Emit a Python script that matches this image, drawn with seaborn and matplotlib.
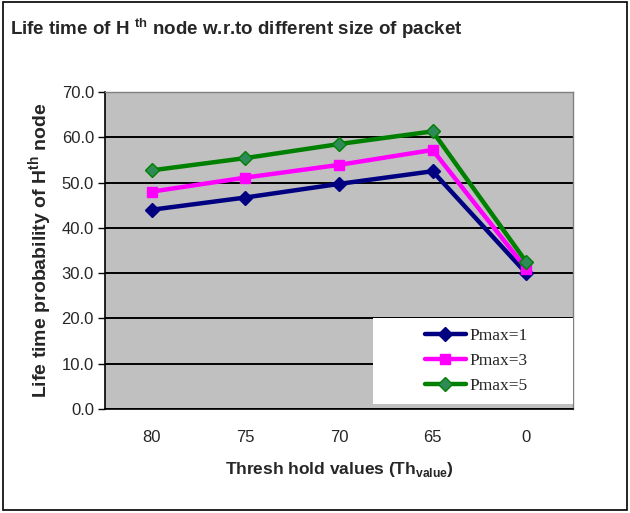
import matplotlib
matplotlib.use("Agg")
import matplotlib.pyplot as plt
import seaborn as sns
import pandas as pd
from matplotlib.patches import Rectangle
from matplotlib.lines import Line2D

categories = ["80", "75", "70", "65", "0"]
pmax1 = [44.0, 46.7, 49.7, 52.5, 30.0]
pmax3 = [48.0, 51.1, 53.9, 57.2, 31.0]
pmax5 = [52.7, 55.4, 58.5, 61.3, 32.5]
series_names = ["Pmax=1", "Pmax=3", "Pmax=5"]
y_ticks = [0, 10, 20, 30, 40, 50, 60, 70]

rows = []
for name, vals in zip(series_names, [pmax1, pmax3, pmax5]):
    for c, v in zip(categories, vals):
        rows.append({"Threshold": c, "Value": v, "Series": name})
df = pd.DataFrame(rows)

sns.set_style("white")
plt.rcParams['font.family'] = ['Liberation Sans', 'DejaVu Sans']

fig = plt.figure(figsize=(6.3, 5.13), dpi=100)
ax = fig.add_axes([0.1667, 0.2027, 0.7428, 0.618])
ax.set_facecolor("#C0C0C0")

palette = {"Pmax=1": "#000080", "Pmax=3": "#FF00FF", "Pmax=5": "#008000"}
markers = {"Pmax=1": "D", "Pmax=3": "s", "Pmax=5": "D"}
sns.lineplot(data=df, x="Threshold", y="Value", hue="Series", style="Series",
             palette=palette, markers=markers, dashes=False, sort=False,
             linewidth=3.2, markersize=7, ax=ax, legend=False)
face = {"Pmax=1": "#000080", "Pmax=3": "#FF00FF", "Pmax=5": "#2E8B57"}
for line, name in zip(ax.lines, series_names):
    line.set_markerfacecolor(face[name])
    line.set_markeredgecolor(palette[name])
    line.set_markeredgewidth(1)
    line.set_markersize(6.5 if name == "Pmax=3" else 7)

ax.set_xlim(-0.5, 4.5)
ax.set_ylim(0, 70)
ax.set_yticks(y_ticks)
ax.set_yticklabels([f"{v:.1f}" for v in y_ticks], fontsize=12)
ax.yaxis.grid(True, color="black", linewidth=1.4)
ax.set_axisbelow(True)
ax.set_xticks(range(len(categories)))
ax.set_xticklabels(categories, fontsize=12)
ax.set_xticks([i - 0.5 for i in range(len(categories) + 1)], minor=True)
ax.tick_params(axis="x", which="major", length=0, pad=15)
ax.tick_params(axis="x", which="minor", length=6, width=1, color="black", direction="out")
ax.tick_params(axis="y", length=5, width=1, color="black", direction="out", pad=3, left=True)
for s in ["top", "right"]:
    ax.spines[s].set_color("#808080")
    ax.spines[s].set_linewidth(1)
for s in ["left", "bottom"]:
    ax.spines[s].set_color("black")
    ax.spines[s].set_linewidth(1.2)

ax.set_xlabel("Thresh hold values (Th$_{\\mathregular{value}}$)", fontsize=12.5, fontweight="bold", labelpad=11)
ax.set_ylabel("Life time probability of H$^{\\mathregular{th}}$ node", fontsize=14, fontweight="bold", labelpad=5)

fig.text(0.016, 0.945, "Life time of H $^{\\mathregular{th}}$ node w.r.to different size of packet",
         fontsize=13.5, fontweight="bold", ha="left", va="center")

# white legend box
ax.add_patch(Rectangle((0.573, 0.016), 0.427, 0.271, transform=ax.transAxes,
                       facecolor="white", edgecolor="none", zorder=4))
handles = [Line2D([0], [0], color=palette[n], marker=markers[n], markerfacecolor=face[n],
                  markeredgecolor=palette[n], linewidth=3.2, markersize=7) for n in series_names]
leg = ax.legend(handles, series_names, loc="center left", bbox_to_anchor=(0.683, 0.152),
                frameon=False, handlelength=2.4, borderpad=0.0,
                labelspacing=0.5, prop={"family": "Liberation Serif", "size": 12.5},
                borderaxespad=0, handletextpad=0.2)
leg.set_zorder(5)

fig.patches.append(Rectangle((0.004, 0.006), 0.992, 0.99, transform=fig.transFigure,
                             fill=False, edgecolor="black", linewidth=1.2))

fig.savefig("out.png", dpi=100)
